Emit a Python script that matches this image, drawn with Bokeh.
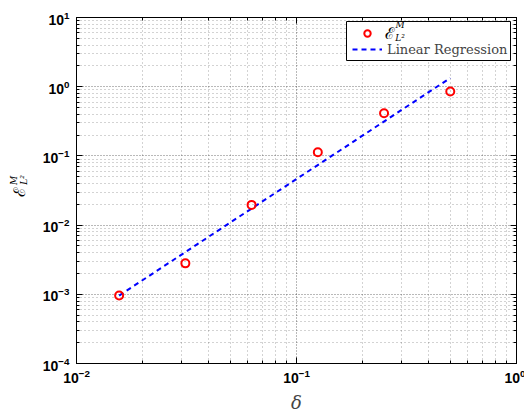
import math
import numpy as np
from bokeh.plotting import figure
from bokeh.models import (LogAxis, Label, Legend, LegendItem, FixedTicker,
                          CustomJSTickFormatter, BoxAnnotation)
from bokeh.core.properties import value
from bokeh.embed import file_html
from bokeh.resources import INLINE

# ---- data ----
delta = [1/64, 1/32, 1/16, 1/8, 1/4, 1/2]
err = [9.6e-4, 2.8e-3, 0.0196, 0.113, 0.414, 0.853]
x_limits = (1e-2, 1e0)
y_limits = (1e-4, 1e1)
x_decades = [-2, -1, 0]
y_decades = [-4, -3, -2, -1, 0, 1]
series_label = "Linear Regression"
x_label = "δ"

FRAME_W, FRAME_H = 440, 346

# linear regression in log-log space
coef = np.polyfit(np.log10(delta), np.log10(err), 1)
fit_x = [delta[0], delta[-1]]
fit_y = [10 ** np.polyval(coef, math.log10(v)) for v in fit_x]


def ticks_for(decades):
    major = [10.0 ** d for d in decades]
    minor = [k * 10.0 ** d for d in decades[:-1] for k in range(2, 10)]
    return major, minor


xmaj, xmin = ticks_for(x_decades)
ymaj, ymin = ticks_for(y_decades)

p = figure(x_axis_type="log", y_axis_type="log",
           x_range=x_limits, y_range=y_limits,
           frame_width=FRAME_W, frame_height=FRAME_H,
           min_border_left=75, min_border_right=9,
           min_border_top=17, min_border_bottom=50,
           output_backend="svg", toolbar_location=None)

p.outline_line_color = "black"
p.outline_line_width = 1
p.background_fill_color = "white"
p.border_fill_color = "white"

p.xaxis.ticker = FixedTicker(ticks=xmaj, minor_ticks=xmin)
p.yaxis.ticker = FixedTicker(ticks=ymaj, minor_ticks=ymin)
p.xgrid.ticker = p.xaxis[0].ticker
p.ygrid.ticker = p.yaxis[0].ticker

for ax in list(p.xaxis) + list(p.yaxis):
    ax.major_tick_in = 6
    ax.major_tick_out = 0
    ax.minor_tick_in = 3
    ax.minor_tick_out = 0
    ax.axis_line_color = "black"
    ax.major_tick_line_color = "black"
    ax.minor_tick_line_color = "black"
    ax.major_label_text_font = "Liberation Sans"
    ax.major_label_text_font_style = "bold"
    ax.major_label_text_font_size = "14px"
    ax.major_label_text_color = "black"
p.yaxis.major_label_standoff = 7
p.xaxis.major_label_standoff = 5
p.xaxis.axis_label = x_label
p.xaxis.axis_label_text_font = "DejaVu Serif"
p.xaxis.axis_label_text_font_style = "italic"
p.xaxis.axis_label_text_font_size = "18px"
p.xaxis.axis_label_standoff = 6

blank = CustomJSTickFormatter(code="return ''")
top = LogAxis(ticker=FixedTicker(ticks=xmaj, minor_ticks=xmin), formatter=blank,
              major_tick_in=6, major_tick_out=0, minor_tick_in=3, minor_tick_out=0,
              major_label_standoff=0, axis_line_color="black")
right = LogAxis(ticker=FixedTicker(ticks=ymaj, minor_ticks=ymin), formatter=blank,
                major_tick_in=6, major_tick_out=0, minor_tick_in=3, minor_tick_out=0,
                major_label_standoff=0, axis_line_color="black")
p.add_layout(top, "above")
p.add_layout(right, "right")

for g in (p.xgrid, p.ygrid):
    g.grid_line_color = "black"
    g.grid_line_dash = "1 2"
    g.grid_line_alpha = 0.55
    g.minor_grid_line_color = "black"
    g.minor_grid_line_dash = "1 3"
    g.minor_grid_line_alpha = 0.35

ln = p.line(fit_x, fit_y, line_color="#0000ff", line_width=2, line_dash="5 4")
sc = p.scatter(delta, err, marker="circle", size=8, fill_color=None,
               line_color="#ff0000", line_width=2)

# legend frame: white box with black border, drawn below the legend entries
p.add_layout(BoxAnnotation(left=270, right=434, bottom=303, top=342,
                           left_units="screen", right_units="screen",
                           bottom_units="screen", top_units="screen",
                           fill_color="white", fill_alpha=1,
                           line_color="black", line_width=1, line_alpha=1,
                           level="glyph"))

legend = Legend(items=[LegendItem(label=" ", renderers=[sc]),
                       LegendItem(label=series_label, renderers=[ln])],
                location=(274, 304), margin=0, padding=2, spacing=0,
                glyph_width=30, glyph_height=16, label_height=16,
                label_standoff=5, label_text_font="DejaVu Serif",
                label_text_font_size="13px", border_line_alpha=0,
                background_fill_alpha=0)
p.add_layout(legend)

# pixel offsets (from the frame's bottom-left corner) -> position on the log axes
lx0, lx1 = math.log10(x_limits[0]), math.log10(x_limits[1])
ly0, ly1 = math.log10(y_limits[0]), math.log10(y_limits[1])


def to_data(sx, sy):
    return (10 ** (lx0 + sx * (lx1 - lx0) / FRAME_W),
            10 ** (ly0 + sy * (ly1 - ly0) / FRAME_H))


# legend label  E^M_{L^2}  (inside the frame: text glyphs)
def legend_text(txt, sx, sy, size, style="normal"):
    x, y = to_data(sx, sy)
    p.text(x=[x], y=[y], text=[txt], text_font=value("DejaVu Serif"),
           text_font_size=value(size), text_font_style=style,
           text_align="center", text_baseline="middle", text_color="black",
           level="overlay")


legend_text("ℰ", 313, 330, "16px")
legend_text("M", 323.5, 338.5, "9px", style="italic")
legend_text("L²", 323.5, 325.5, "9px", style="italic")


# y axis label  E^M_{L^2}  (left panel)
def ylab(txt, sx, sy, size, style="normal"):
    x, y = to_data(sx, sy)
    p.add_layout(Label(x=x, y=y, text=txt, text_font_size=size,
                       text_align="center", text_baseline="middle",
                       angle=math.pi / 2, text_font="DejaVu Serif",
                       text_font_style=style, text_color="black"), "left")


ylab("ℰ", -57.5, 172, "16px")
ylab("M", -63, 183, "9px", style="italic")
ylab("L²", -53, 183.5, "9px", style="italic")

open("out.html", "w").write(file_html(p, INLINE))
